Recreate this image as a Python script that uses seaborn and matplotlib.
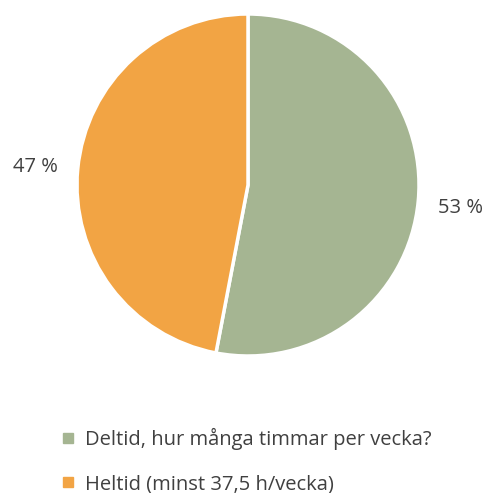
import matplotlib
matplotlib.use("Agg")
import matplotlib.pyplot as plt
from matplotlib.lines import Line2D
import seaborn as sns

categories = ["Deltid, hur många timmar per vecka?", "Heltid (minst 37,5 h/vecka)"]
values = [53, 47]
pct_labels = ["53 %", "47 %"]
colors = ["#A5B592", "#F2A444"]

sns.set_theme(style="white")
plt.rcParams['font.family'] = ['Open Sans', 'DejaVu Sans']

W, H = 487, 493
fig = plt.figure(figsize=(W / 100, H / 100), dpi=100)
cx, cy, r = 248, 185, 171
ax = fig.add_axes([(cx - r) / W, (H - cy - r) / H, 2 * r / W, 2 * r / H])

wedges, texts = ax.pie(values, colors=colors, startangle=90, counterclock=False,
                       labels=pct_labels, labeldistance=1.25,
                       wedgeprops=dict(edgecolor="white", linewidth=2.5),
                       textprops=dict(fontsize=14.5, color="#404040"))
for t in texts:
    t.set_clip_on(False)
    t.set_ha("center")
    t.set_va("center_baseline")
ax.set_xlim(-1, 1)
ax.set_ylim(-1, 1)
ax.set_aspect("equal")
ax.axis("off")

handles = [Line2D([0], [0], marker="s", linestyle="none", markersize=7,
                  markerfacecolor=c, markeredgecolor=c) for c in colors]
fig.legend(handles, categories, loc="upper left",
           bbox_to_anchor=(53 / W, 1 - 420 / H), frameon=False,
           fontsize=14.5, labelspacing=1.2, handlelength=0.7,
           handletextpad=0.5, labelcolor="#404040", borderaxespad=0)

fig.savefig("out.png", dpi=100, facecolor="white")
